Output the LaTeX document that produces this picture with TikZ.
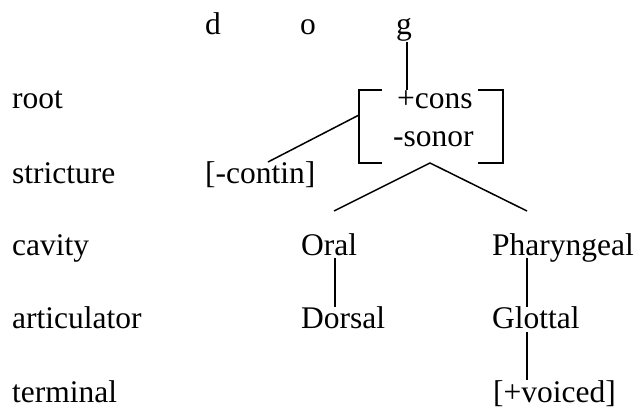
\documentclass[tikz,border=0pt]{standalone}
\usepackage{fontspec}
\setmainfont{Liberation Serif}
\usetikzlibrary{calc}
\newcommand\lblfont{\fontsize{31.5}{36}\selectfont}
\begin{document}
\begin{tikzpicture}[x=1pt,y=-1pt,
  lab/.style={anchor=base west, inner sep=0pt, font=\lblfont},
  conn/.style={line width=1.5pt, line cap=butt}]
\useasboundingbox (0,0) rectangle (639,409);
% segment letters
\node[lab] (d) at (205,35) {d};
\node[lab] (o) at (300,35) {o};
\node[lab] (g) at (396,35) {g};
% tier labels
\node[lab] (root) at (12,109) {root};
\node[lab] (stricture) at (12,183) {stricture};
\node[lab] (cavity) at (12,255) {cavity};
\node[lab] (articulator) at (12,328) {articulator};
\node[lab] (terminal) at (12,402) {terminal};
% feature nodes
\node[lab] (cons) at (397,109) {+cons};
\node[lab] (sonor) at (393,146.7) {-sonor};
\node[lab] (contin) at (205,183) {[-contin]};
\node[lab] (oral) at (301,255) {Oral};
\node[lab] (pharyngeal) at (492,255) {Pharyngeal};
\node[lab] (dorsal) at (301,328) {Dorsal};
\node[lab] (glottal) at (492,328) {Glottal};
\node[lab] (voiced) at (493,402) {[+voiced]};
% bracket coordinates
\coordinate (btl) at (359,90);
\coordinate (bbl) at (359,163);
\coordinate (btr) at (503,90);
\coordinate (bbr) at (503,163);
\coordinate (bjoin) at (359,115);
\coordinate (gjoin) at (407,90);
\coordinate (apex) at (430,163);
\coordinate (vl) at (334,211);
\coordinate (vr) at (527,211);
% brackets
\draw[conn] ($(btl)+(23,0)$) -- (btl) -- (bbl) -- ($(bbl)+(23,0)$);
\draw[conn] ($(btr)+(-25,0)$) -- (btr) -- (bbr) -- ($(bbr)+(-25,0)$);
% connectors
\draw[conn] (g.south -| gjoin) -- (gjoin);
\draw[conn] (bjoin) -- ($(contin.base west)+(63,-21)$);
\draw[conn] (vl) -- (apex) -- (vr);
\draw[conn] ($(oral.base west)+(34,3)$) -- ($(dorsal.base west)+(34,-21)$);
\draw[conn] ($(pharyngeal.base west)+(35,3)$) -- ($(glottal.base west)+(35,-21)$);
\draw[conn] ($(glottal.base west)+(35,4)$) -- ($(voiced.base west)+(34,-22)$);
\end{tikzpicture}
\end{document}
